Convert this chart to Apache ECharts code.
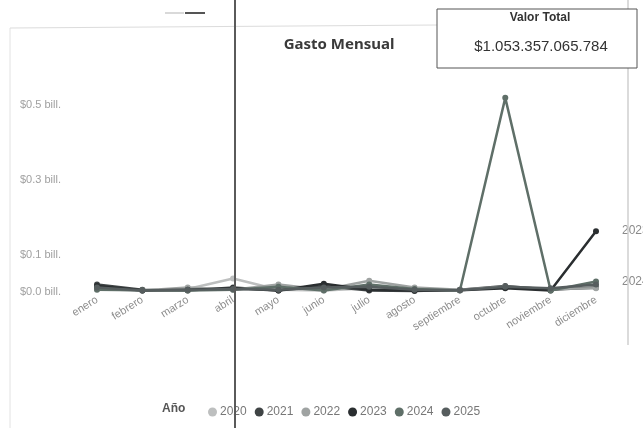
<!DOCTYPE html>
<html>
<head>
<meta charset="utf-8">
<script src="https://cdn.jsdelivr.net/npm/echarts@6/dist/echarts.min.js"></script>
<style>
  html, body { margin: 0; padding: 0; background: #fff; }
  #chart { width: 643px; height: 428px; }
</style>
</head>
<body>
<div id="chart"></div>
<script>
// Months (x categories)
var months = ['enero','febrero','marzo','abril','mayo','junio','julio','agosto','septiembre','octubre','noviembre','diciembre'];
// Years (series names)
var years = ['2020','2021','2022','2023','2024','2025'];
// Monthly spend per year, in billones
var v2020 = [0.010, 0.004, 0.008, 0.036, 0.006, 0.004, 0.010, 0.004, 0.006, 0.012, 0.008, 0.012];
var v2021 = [0.020, 0.006, 0.004, 0.012, 0.004, 0.016, 0.004, 0.003, 0.006, 0.016, 0.006, 0.012];
var v2022 = [0.008, 0.004, 0.012, 0.006, 0.020, 0.006, 0.030, 0.012, 0.006, 0.014, 0.008, 0.010];
var v2023 = [0.016, 0.004, 0.006, 0.010, 0.004, 0.022, 0.006, 0.004, 0.005, 0.010, 0.004, 0.163];
var v2024 = [0.006, 0.005, 0.004, 0.006, 0.014, 0.004, 0.020, 0.008, 0.004, 0.520, 0.004, 0.028];
var v2025 = [0.012, 0.004, 0.006, 0.008, 0.006, 0.012, 0.014, 0.006, 0.005, 0.014, 0.010, 0.020];
// Y tick labels shown
var yTicks = [0, 0.1, 0.3, 0.5];
// Card
var cardTitle = 'Valor Total';
var cardValue = '$1.053.357.065.784';
var chartTitle = 'Gasto Mensual';
var legendTitle = 'Año';

var values = [v2020, v2021, v2022, v2023, v2024, v2025];
var colors = ['#bdbfbf', '#3f4445', '#9fa3a2', '#2a2e30', '#5f6f68', '#565d5e'];
var endLabelYears = ['2023', '2024'];

var chart = echarts.init(document.getElementById('chart'));
var series = years.map(function (y, i) {
  return {
    name: y,
    type: 'line',
    data: values[i],
    symbol: 'circle',
    symbolSize: 6,
    lineStyle: { width: 2.5, color: colors[i] },
    itemStyle: { color: colors[i] },
    z: 3 + i,
    endLabel: {
      show: endLabelYears.indexOf(y) >= 0,
      formatter: '{a}',
      distance: 26,
      color: '#8a8a8a',
      fontSize: 12,
      fontFamily: 'Liberation Sans'
    }
  };
});

chart.setOption({
  animation: false,
  backgroundColor: '#fff',
  textStyle: { fontFamily: 'Liberation Sans' },
  title: {
    text: chartTitle,
    left: 334, top: 32, textAlign: 'center',
    textStyle: { fontSize: 15, fontWeight: 'bold', color: '#3a3a3a', fontFamily: 'Noto Sans' }
  },
  grid: { left: 97, right: 47, top: 68, bottom: 136, containLabel: false },
  xAxis: {
    type: 'category',
    data: months,
    boundaryGap: false,
    axisLine: { show: false },
    axisTick: { show: false },
    axisLabel: { rotate: 32, color: '#8c8c8c', fontSize: 11, margin: 7, interval: 0 }
  },
  yAxis: {
    type: 'value',
    min: 0, max: 0.6,
    axisLine: { show: false },
    axisTick: { show: false, customValues: yTicks },
    axisLabel: {
      customValues: yTicks,
      align: 'left', margin: 77,
      color: '#a0a0a0', fontSize: 11,
      formatter: function (v) { return '$' + v.toFixed(1) + ' bill.'; }
    },
    splitLine: { show: false }
  },
  legend: {
    data: years,
    left: 203, top: 401,
    icon: 'circle',
    itemWidth: 9, itemHeight: 9, itemGap: 8,
    textStyle: { color: '#777', fontSize: 12, padding: [0, 0, 0, -2] }
  },
  graphic: [
    { type: 'line', shape: { x1: 10, y1: 28, x2: 10, y2: 428 }, style: { stroke: '#e2e2e2', lineWidth: 1 } },
    { type: 'line', shape: { x1: 10, y1: 28, x2: 437, y2: 25 }, style: { stroke: '#dcdcdc', lineWidth: 1 } },
    { type: 'line', shape: { x1: 628, y1: 0, x2: 628, y2: 345 }, style: { stroke: '#cfcfcf', lineWidth: 1.5 }, z: 10 },
    { type: 'line', shape: { x1: 185, y1: 13, x2: 205, y2: 13 }, style: { stroke: '#555', lineWidth: 2 } },
    { type: 'line', shape: { x1: 165, y1: 13, x2: 184, y2: 13 }, style: { stroke: '#ccc', lineWidth: 1.5 } },
    { type: 'rect', shape: { x: 437, y: 9, width: 200, height: 59 }, style: { fill: '#fff', stroke: '#555', lineWidth: 1 }, z: 20 },
    { type: 'text', x: 540, y: 18, z: 21, style: { text: cardTitle, align: 'center', verticalAlign: 'middle', font: 'bold 12px "Liberation Sans"', fill: '#333' } },
    { type: 'text', x: 541, y: 47, z: 21, style: { text: cardValue, align: 'center', verticalAlign: 'middle', font: '15px "Liberation Sans"', fill: '#333' } },
    { type: 'text', x: 162, y: 409, z: 21, style: { text: legendTitle, align: 'left', verticalAlign: 'middle', font: 'bold 12px "Liberation Sans"', fill: '#555' } },
    { type: 'line', shape: { x1: 235, y1: 0, x2: 235, y2: 428 }, style: { stroke: '#5a5a5a', lineWidth: 2 }, z: 30 }
  ],
  series: series
});
</script>
</body>
</html>
